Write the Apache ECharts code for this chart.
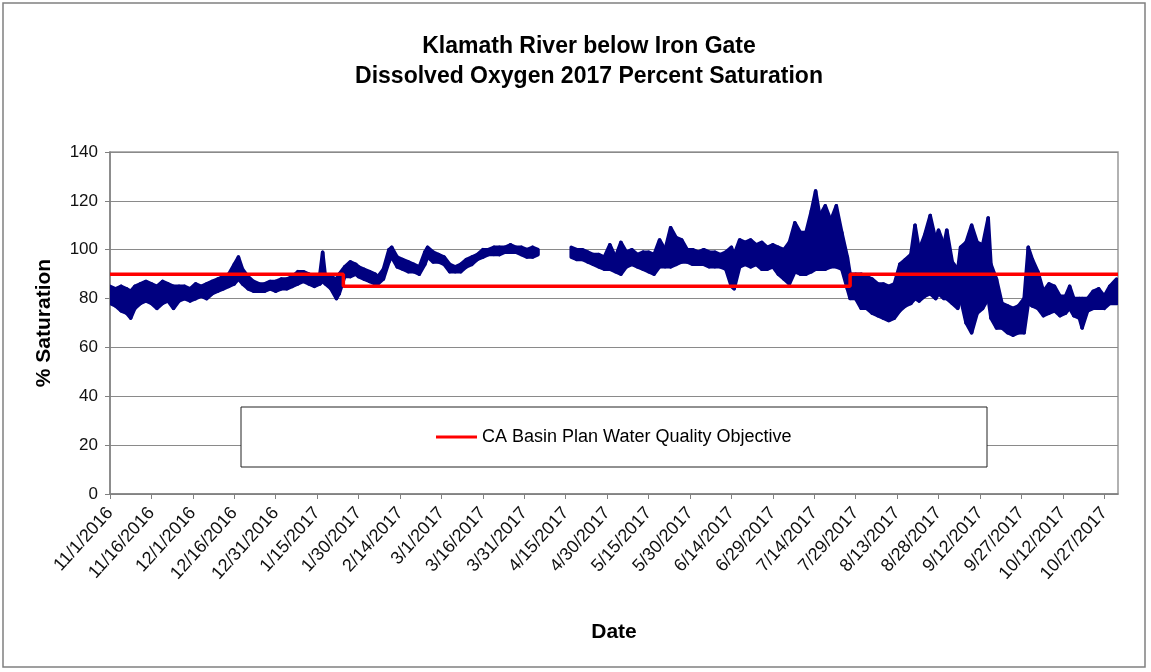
<!DOCTYPE html>
<html><head><meta charset="utf-8">
<script src="https://cdn.jsdelivr.net/npm/echarts@6/dist/echarts.min.js"></script>
<style>html,body{margin:0;padding:0;background:#fff}#c{width:1151px;height:672px}</style>
</head><body><div id="c"></div>
<script>
// x values are days since 11/1/2016
const tickLabels = ['11/1/2016','11/16/2016','12/1/2016','12/16/2016','12/31/2016','1/15/2017','1/30/2017','2/14/2017','3/1/2017','3/16/2017','3/31/2017','4/15/2017','4/30/2017','5/15/2017','5/30/2017','6/14/2017','6/29/2017','7/14/2017','7/29/2017','8/13/2017','8/28/2017','9/12/2017','9/27/2017','10/12/2017','10/27/2017'];

const days = [0,2,4,6,7.5,9,11,13,15,17,19,21,23,25,27,29,31,33,35,37,39,41,43,45,46.5,48,50,52,54,56,58,60,62,64,66,68,70,72,74,76,77,78,80,82,83,85,87,89,
  90,92,94,96,97,99,101,102,104,106,108,110,112,114,115,117,119,121,123,125,127,129,131,133,135,137,139,141,143,145,147,149,151,153,155,
  160,
  167,169,171,173,175,177,179,181,183,185,187,189,191,193,195,197,199,201,203,205,207,209,211,213,215,217,219,221,223,225,226,228,230,232,234,236,238,240,242,244,246,248,250,252,254,255.5,257,259,261,263,265,267,
  268,270,272,274,276,278,280,282,284,286,288,290,291.5,293,295,297,299,300,302,303,305,307,308,310,312,314,316,318,319,321,323,325,327,329,331,332.5,334,336,338,340,342,344,346,347.5,349,351,352,354,356,358,360,362,364.5];

const doLow = [78,77,75,74,72,76,78,79,78,76,78,79,76,79,80,79,80,81,80,82,83,84,85,86,88,86,84,83,83,83,84,83,84,84,85,86,87,86,85,86,87,86,84,80,82,89,89,90,
  89,88,87,86,86,88,95,97,93,92,91,91,90,94,97,95,95,94,91,91,91,93,94,96,97,98,98,98,99,99,99,98,97,97,98,
  null,
  97,96,96,95,94,93,92,92,91,90,93,94,93,92,91,90,93,93,93,94,95,95,94,94,94,93,93,93,92,85,84,93,94,93,94,92,92,93,90,88,86,91,90,90,91,92,92,92,93,93,92,84,
  80,80,76,76,74,73,72,71,72,75,77,78,80,79,81,82,80,82,80,80,78,76,80,70,66,74,76,80,72,68,68,66,65,66,66,78,77,76,73,74,75,73,74,76,73,72,68,75,76,76,76,78,78];

const doHigh = [85,84,85,84,83,85,86,87,86,85,87,86,85,85,85,84,86,85,86,87,88,89,90,94,97,92,89,87,86,86,87,87,88,88,89,91,91,90,89,90,99,89,89,88,90,93,95,94,
  93,92,91,90,89,92,100,101,97,96,95,94,93,99,101,99,98,97,94,93,94,96,97,98,100,100,101,101,101,102,101,101,100,101,100,
  null,
  101,100,100,99,98,98,97,102,97,103,99,100,98,99,99,98,104,100,109,105,104,100,100,99,100,99,99,98,99,101,98,104,103,104,102,103,101,102,101,100,103,111,107,107,116,124,114,118,112,118,107,97,
  90,90,90,89,88,86,86,85,86,94,96,98,110,100,106,114,104,108,102,108,95,92,101,103,110,103,102,113,94,88,78,77,76,77,80,101,96,91,83,86,85,81,81,85,80,80,80,80,83,84,81,85,88];

const objDays = [0, 84.5, 84.5, 268, 268, 365];
const objValues = [90, 90, 85, 85, 90, 90];

const NAVY = '#000080';
const FONT = 'Liberation Sans, Arial, sans-serif';
const chart = echarts.init(document.getElementById('c'), null, {renderer: 'canvas'});
const bandData = days.map((d, i) => [d, doLow[i], doHigh[i]]);
const objName = 'CA Basin Plan Water Quality Objective';

function renderBand(params, api) {
  const i = params.dataIndex;
  if (i >= days.length - 1) return;
  if (doLow[i] == null || doLow[i + 1] == null) return;
  const a = api.coord([days[i], doHigh[i]]);
  const b = api.coord([days[i + 1], doHigh[i + 1]]);
  const c = api.coord([days[i + 1], doLow[i + 1]]);
  const d = api.coord([days[i], doLow[i]]);
  return {
    type: 'polygon',
    shape: {points: [a, b, c, d]},
    style: {fill: NAVY, stroke: NAVY, lineWidth: 3.5, lineJoin: 'round'}
  };
}

chart.setOption({
  animation: false,
  backgroundColor: '#fff',
  textStyle: {fontFamily: FONT},
  title: {
    text: 'Klamath River below Iron Gate\nDissolved Oxygen 2017 Percent Saturation',
    left: 584, top: 27, textAlign: 'center',
    textStyle: {fontSize: 23, fontWeight: 'bold', color: '#000', lineHeight: 30, fontFamily: FONT}
  },
  graphic: [
    {type: 'rect', z: 0, silent: true, shape: {x: 3, y: 3, width: 1142, height: 664}, style: {fill: 'none', stroke: '#808080', lineWidth: 1.5}},
    {type: 'rect', z: 3, silent: true, shape: {x: 241, y: 407, width: 746, height: 60}, style: {fill: '#fff', stroke: '#222', lineWidth: 1}}
  ],
  legend: {
    data: [{name: objName, icon: 'rect'}],
    left: 436, top: 428, padding: 0, z: 5,
    itemWidth: 41, itemHeight: 3, itemGap: 0,
    textStyle: {fontSize: 18, color: '#000', fontFamily: FONT}
  },
  grid: {left: 110, right: 33, top: 152, bottom: 178, show: true, borderColor: '#999', borderWidth: 1.5, backgroundColor: 'transparent'},
  xAxis: {
    type: 'value', min: 0, max: 365, interval: 15,
    name: 'Date', nameLocation: 'middle', nameGap: 128,
    nameTextStyle: {fontSize: 21, fontWeight: 'bold', color: '#000', fontFamily: FONT},
    axisLine: {show: true, lineStyle: {color: '#808080', width: 1.5}},
    axisTick: {show: true, length: 5, lineStyle: {color: '#808080'}},
    splitLine: {show: false},
    axisLabel: {
      rotate: 48, fontSize: 18, color: '#111', margin: 16, interval: 0, hideOverlap: false, showMaxLabel: false,
      formatter: v => (v % 15 === 0 && tickLabels[v / 15]) ? tickLabels[v / 15] : ''
    }
  },
  yAxis: {
    type: 'value', min: 0, max: 140, interval: 20,
    name: '% Saturation', nameLocation: 'middle', nameGap: 55, nameRotate: 90,
    nameTextStyle: {fontSize: 21, fontWeight: 'bold', color: '#000', fontFamily: FONT},
    axisLine: {show: true, lineStyle: {color: '#808080', width: 1.5}},
    axisTick: {show: true, length: 5, lineStyle: {color: '#808080'}},
    splitLine: {show: true, lineStyle: {color: '#8a8a8a', width: 1}},
    axisLabel: {fontSize: 17, color: '#111', margin: 12}
  },
  series: [
    {
      name: 'Dissolved Oxygen', type: 'custom', renderItem: renderBand, data: bandData,
      encode: {x: 0, y: [1, 2]}, z: 2, clip: true, silent: true
    },
    {
      name: objName, type: 'line', data: objDays.map((d, i) => [d, objValues[i]]),
      symbol: 'none', z: 4, lineStyle: {color: '#ff0000', width: 3.5}, itemStyle: {color: '#ff0000'}
    }
  ]
});
</script>
</body></html>
